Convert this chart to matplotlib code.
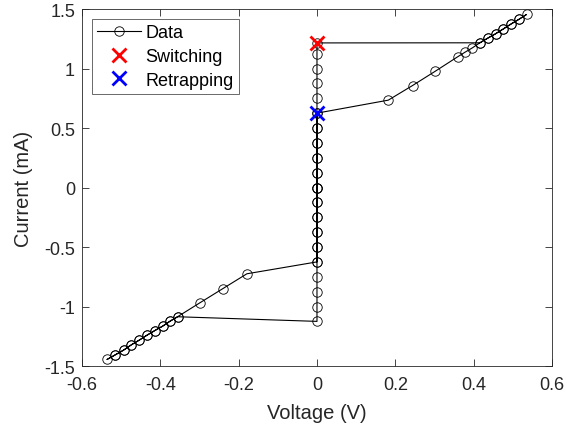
import matplotlib
matplotlib.use("Agg")
import matplotlib.pyplot as plt
from matplotlib.ticker import FormatStrFormatter

plt.rcParams['font.family'] = ['Liberation Sans', 'DejaVu Sans']
plt.rcParams['axes.unicode_minus'] = False

# Superconducting branch (V = 0), current steps
sc_up_i = [0.0, 0.125, 0.25, 0.375, 0.5, 0.625, 0.75, 0.875, 1.0, 1.125, 1.215]
sc_down_i = [0.625, 0.5, 0.375, 0.25, 0.125, 0.0, -0.125, -0.25, -0.375, -0.5,
             -0.625, -0.75, -0.875, -1.0, -1.125]
sc_back_i = [-0.625, -0.5, -0.375, -0.25, -0.125, 0.0]

# Resistive branch, positive side (sweep up then back down)
pos_up_v = [0.416, 0.436, 0.456, 0.476, 0.496, 0.515, 0.535]
pos_up_i = [1.216, 1.255, 1.292, 1.333, 1.375, 1.412, 1.454]
pos_tail_v = [0.397, 0.378, 0.359, 0.301, 0.244, 0.182]
pos_tail_i = [1.174, 1.137, 1.098, 0.975, 0.857, 0.734]

# Resistive branch, negative side
neg_up_v = [-0.356, -0.375, -0.394, -0.414, -0.434, -0.454, -0.474, -0.494, -0.515, -0.536]
neg_up_i = [-1.086, -1.123, -1.165, -1.202, -1.241, -1.283, -1.322, -1.367, -1.406, -1.445]
neg_tail_v = [-0.299, -0.241, -0.179]
neg_tail_i = [-0.969, -0.851, -0.725]

switch_v, switch_i = 0.0, 1.215
retrap_v, retrap_i = 0.0, 0.625

# full measurement sequence
volt = ([0.0] * len(sc_up_i) + pos_up_v + pos_up_v[-2::-1] + pos_tail_v
        + [0.0] * len(sc_down_i) + neg_up_v + neg_up_v[-2::-1] + neg_tail_v
        + [0.0] * len(sc_back_i))
curr = (sc_up_i + pos_up_i + pos_up_i[-2::-1] + pos_tail_i
        + sc_down_i + neg_up_i + neg_up_i[-2::-1] + neg_tail_i
        + sc_back_i)

fig = plt.figure(figsize=(5.67, 4.35), dpi=100)
ax = fig.add_axes([0.1446, 0.1563, 0.8289, 0.8207])

ax.plot(volt, curr, '-o', color='black', lw=0.8, markersize=6.8,
        markerfacecolor='none', markeredgewidth=0.6, label='Data')
ax.plot(switch_v, switch_i, 'x', color='red', markersize=10, markeredgewidth=2,
        label='Switching', linestyle='none')
ax.plot(retrap_v, retrap_i, 'x', color='blue', markersize=10, markeredgewidth=2,
        label='Retrapping', linestyle='none')

ax.set_xlim(-0.6, 0.6)
ax.set_ylim(-1.5, 1.5)
ax.set_xticks([-0.6, -0.4, -0.2, 0, 0.2, 0.4, 0.6])
ax.set_yticks([-1.5, -1, -0.5, 0, 0.5, 1, 1.5])
ax.xaxis.set_major_formatter(FormatStrFormatter('%g'))
ax.yaxis.set_major_formatter(FormatStrFormatter('%g'))

axcol = '#262626'
for s in ax.spines.values():
    s.set_color(axcol)
    s.set_linewidth(0.6)
ax.tick_params(direction='in', top=True, right=True, length=5, width=0.6,
               colors=axcol, labelsize=13, labelcolor=axcol)
ax.tick_params(axis='x', pad=7.5)
ax.tick_params(axis='y', pad=5)
ax.set_xlabel('Voltage (V)', fontsize=14.5, color=axcol, labelpad=7)
ax.set_ylabel('Current (mA)', fontsize=14.5, color=axcol, labelpad=8)

leg = ax.legend(loc='upper left', fontsize=13, frameon=True, fancybox=False,
                edgecolor=axcol, borderaxespad=0.55, handlelength=2.4,
                handletextpad=0.25, labelspacing=0.37, borderpad=0.3)
leg.get_frame().set_linewidth(0.6)

fig.savefig('out.png', dpi=100)
